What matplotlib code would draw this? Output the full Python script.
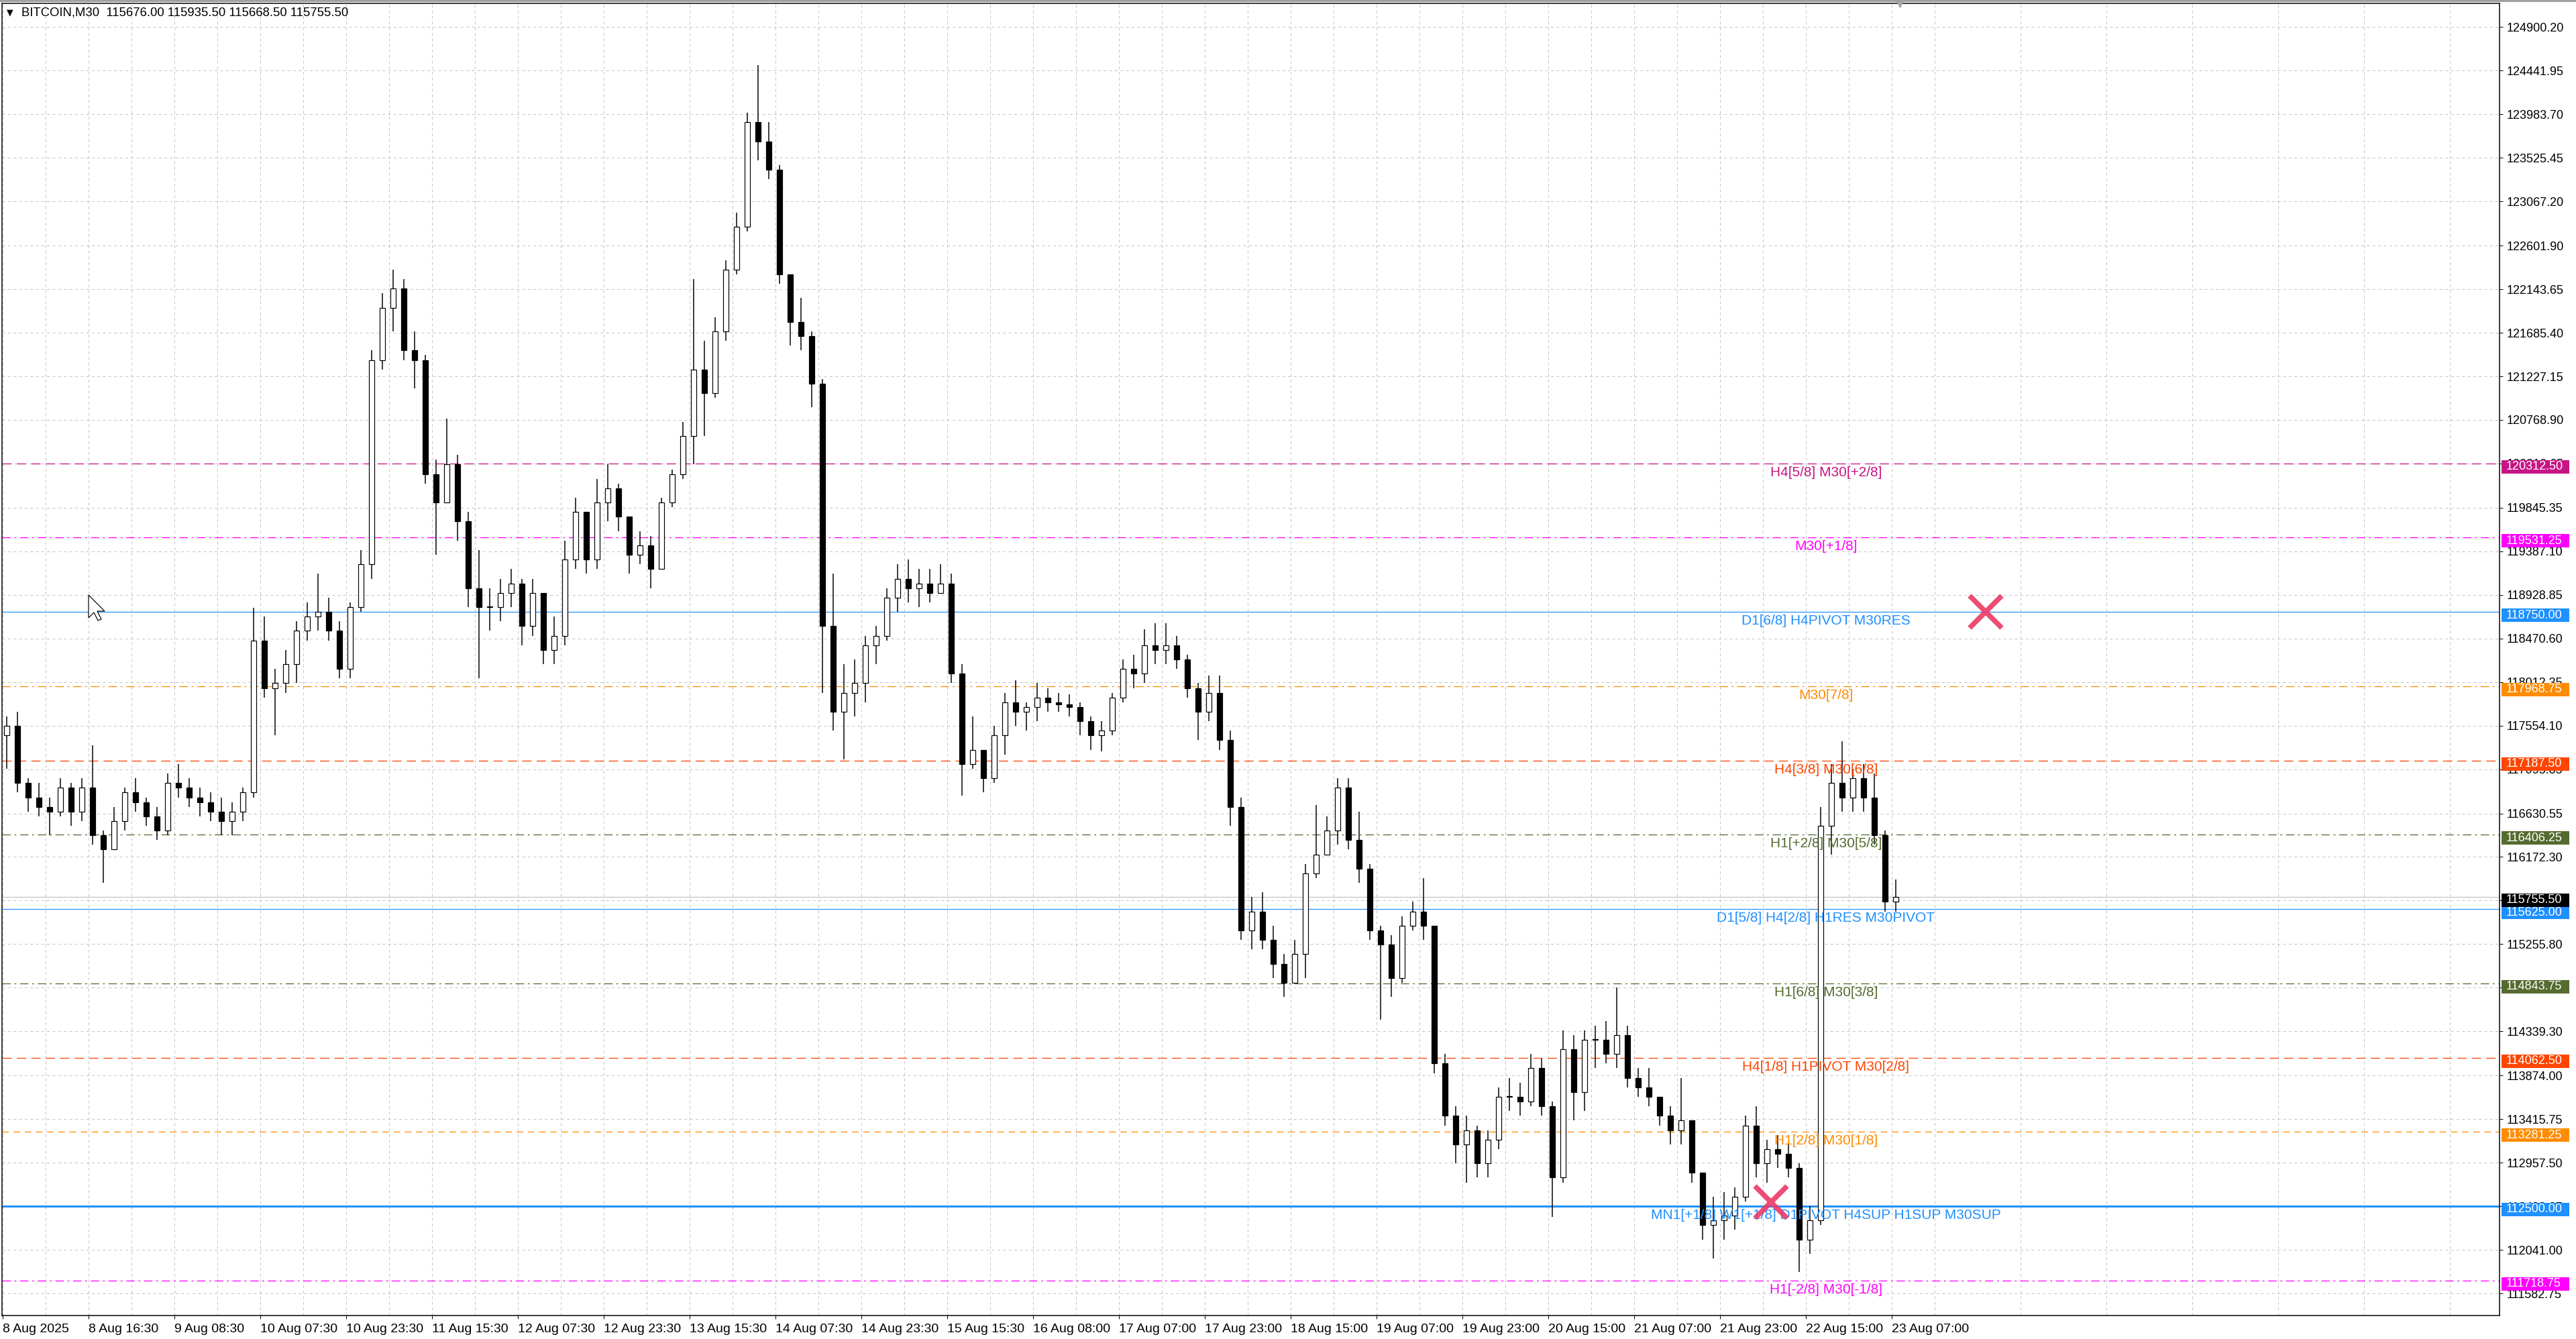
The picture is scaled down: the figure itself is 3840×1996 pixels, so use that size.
import matplotlib
matplotlib.use("Agg")
import matplotlib.pyplot as plt
import matplotlib.transforms as mtransforms
from matplotlib.patches import Rectangle, Polygon

plt.rcParams['font.family'] = ['Liberation Sans', 'DejaVu Sans']
plt.rcParams['lines.scale_dashes'] = False

PX = 0.72  # one pixel in points (dpi 100)

# ---------------- data ----------------
title = "BITCOIN,M30  115676.00 115935.50 115668.50 115755.50"

# candles grouped by 4 M30 bars (2 hours); open = previous close
first_open = 117450.0
highs = [117650, 117700, 117000, 116950, 116800, 117000, 116950, 117000, 117350, 116450,
         116700, 116900, 117000, 116800, 116700, 117050, 117150, 117000, 116900, 116850,
         116800, 116750, 116900, 118790, 118700, 118150, 118350, 118650, 118850, 119150,
         118900, 118650, 118850, 119400, 121500, 122100, 122350, 122250, 121700, 121450,
         120350, 120780, 120400, 119800, 119400, 119000, 119100, 119200, 119100, 119100,
         118800, 118700, 119500, 119950, 119800, 120150, 120300, 120100, 119750, 119600,
         119550, 119950, 120250, 120750, 122250, 121600, 121850, 122450, 122950, 124000,
         124500, 123900, 123450, 122300, 122050, 121700, 121200, 119150, 118200, 118250,
         118500, 118600, 119000, 119250, 119300, 119200, 119200, 119250, 119150, 118200,
         117650, 117300, 117550, 117900, 118030, 117800, 118000, 117950, 117900, 117880,
         117800, 117650, 117600, 117900, 118250, 118300, 118570, 118630, 118630, 118500,
         118300, 118000, 118080, 118080, 117500, 116800, 115750, 115800, 115450, 115150,
         115300, 116100, 116720, 116600, 117000, 117000, 116650, 116100, 115450, 115350,
         115550, 115700, 115950, 115450, 114100, 113550, 113450, 113350, 113300, 113750,
         113850, 113800, 114100, 114050, 113600, 114350, 114300, 114350, 114400, 114450,
         114800, 114400, 113950, 113950, 113650, 113550, 113850, 113400, 112850, 112600,
         112650, 112700, 113450, 113550, 113200, 113250, 113150, 112950, 112500, 116700,
         117150, 117390, 117100, 117150, 117050, 116450, 115935.5]
lows = [117100, 116850, 116650, 116600, 116400, 116600, 116500, 116550, 116300, 115900,
        116300, 116450, 116650, 116500, 116350, 116400, 116800, 116700, 116600, 116550,
        116400, 116400, 116550, 116800, 117850, 117450, 117900, 118000, 118450, 118550,
        118450, 118050, 118050, 118750, 119100, 121300, 121700, 121400, 121100, 120100,
        119350, 119900, 119500, 118800, 118050, 118550, 118650, 118800, 118400, 118500,
        118200, 118200, 118400, 119200, 119150, 119200, 119700, 119600, 119150, 119250,
        119000, 119200, 119850, 120150, 120300, 120600, 121000, 121600, 122300, 122750,
        123500, 123300, 122200, 121550, 121500, 120900, 117900, 117500, 117200, 117650,
        117800, 118200, 118450, 118750, 118850, 118800, 118850, 118950, 118000, 116820,
        117100, 116850, 116950, 117250, 117550, 117500, 117600, 117700, 117700, 117650,
        117450, 117300, 117280, 117450, 117800, 117950, 118000, 118200, 118200, 118150,
        117850, 117400, 117600, 117300, 116500, 115300, 115200, 115200, 114900, 114700,
        114850, 114900, 115950, 116250, 116300, 116250, 115900, 115300, 114460, 114700,
        114850, 115400, 115300, 113900, 113350, 112950, 112750, 112800, 112800, 113100,
        113500, 113450, 113550, 113450, 112390, 112750, 113400, 113500, 113950, 114000,
        113950, 113750, 113650, 113550, 113350, 113150, 113150, 112750, 112150, 111950,
        112150, 112250, 112550, 112800, 112750, 112900, 112800, 111810, 112000, 112300,
        116200, 116650, 116650, 116650, 116300, 115600, 115600]
closes = [117550, 116950, 116800, 116700, 116650, 116900, 116650, 116900, 116400, 116250,
          116550, 116850, 116750, 116600, 116450, 116950, 116900, 116800, 116750, 116650,
          116550, 116650, 116850, 118450, 117950, 118000, 118200, 118550, 118700, 118750,
          118550, 118150, 118800, 119250, 121400, 121950, 122150, 121500, 121400, 120200,
          119900, 120300, 119700, 119000, 118800, 118800, 118950, 119050, 118600, 118950,
          118350, 118500, 119300, 119800, 119300, 119900, 120050, 119750, 119350, 119450,
          119200, 119900, 120200, 120600, 121300, 121050, 121700, 122350, 122800, 123900,
          123700, 123400, 122300, 121800, 121650, 121150, 118600, 117700, 117900, 118000,
          118400, 118500, 118900, 119100, 119000, 119050, 118950, 119050, 118100, 117150,
          117300, 117000, 117450, 117800, 117700, 117750, 117850, 117800, 117780, 117750,
          117600, 117450, 117500, 117850, 118150, 118100, 118400, 118350, 118400, 118250,
          117950, 117700, 117900, 117400, 116700, 115400, 115600, 115300, 115050, 114850,
          115150, 116000, 116200, 116450, 116900, 116350, 116050, 115400, 115250, 114900,
          115450, 115600, 115450, 114000, 113450, 113150, 113300, 112950, 113200, 113650,
          113650, 113600, 113950, 113550, 112800, 114150, 113700, 114250, 114250, 114100,
          114300, 113850, 113750, 113650, 113450, 113300, 113400, 112850, 112300, 112350,
          112400, 112600, 113350, 112950, 113100, 113050, 112900, 112150, 112350, 116500,
          116950, 116800, 117000, 116800, 116400, 115700, 115755.5]
bars_per_candle = 4

time_labels = ["8 Aug 2025", "8 Aug 16:30", "9 Aug 08:30", "10 Aug 07:30", "10 Aug 23:30",
               "11 Aug 15:30", "12 Aug 07:30", "12 Aug 23:30", "13 Aug 15:30", "14 Aug 07:30",
               "14 Aug 23:30", "15 Aug 15:30", "16 Aug 08:00", "17 Aug 07:00", "17 Aug 23:00",
               "18 Aug 15:00", "19 Aug 07:00", "19 Aug 23:00", "20 Aug 15:00", "21 Aug 07:00",
               "21 Aug 23:00", "22 Aug 15:00", "23 Aug 07:00"]
bars_per_label = 32

price_ticks = [124900.20, 124441.95, 123983.70, 123525.45, 123067.20, 122601.90, 122143.65,
               121685.40, 121227.15, 120768.90, 120310.65, 119845.35, 119387.10, 118928.85,
               118470.60, 118012.35, 117554.10, 117095.85, 116630.55, 116172.30, 115714.05,
               115255.80, 114797.55, 114339.30, 113874.00, 113415.75, 112957.50, 112499.25,
               112041.00, 111582.75]

level_prices = [120312.50, 119531.25, 118750.00, 117968.75, 117187.50, 116406.25,
                115625.00, 114843.75, 114062.50, 113281.25, 112500.00, 111718.75]
level_names = ["H4[5/8] M30[+2/8]", "M30[+1/8]", "D1[6/8] H4PIVOT M30RES", "M30[7/8]",
               "H4[3/8] M30[6/8]", "H1[+2/8] M30[5/8]", "D1[5/8] H4[2/8] H1RES M30PIVOT",
               "H1[6/8] M30[3/8]", "H4[1/8] H1PIVOT M30[2/8]", "H1[2/8] M30[1/8]",
               "MN1[+1/8] W1[+1/8] D1PIVOT H4SUP H1SUP M30SUP", "H1[-2/8] M30[-1/8]"]
level_colors = ["#C71585", "#FF00FF", "#1E90FF", "#FF8C00", "#FF4500", "#556B2F",
                "#1E90FF", "#556B2F", "#FF4500", "#FF8C00", "#1E90FF", "#FF00FF"]
level_kinds = ["dash", "dashdot", "solid", "dashdot", "dash", "dashdot",
               "solid", "dashdot", "dash", "short", "solid", "dashdot"]
level_widths = [1.3, 1.3, 1.2, 1.3, 1.3, 1.3, 1.2, 1.3, 1.3, 1.3, 3, 1.3]

bid_price = 115755.50

cross_bars = [739, 659]
cross_prices = [118750, 112540]

# ---------------- figure ----------------
W, H = 3840, 1996
fig = plt.figure(figsize=(W / 100, H / 100), dpi=100)
ax = fig.add_axes([3 / W, 35 / H, 3723 / W, 1956 / H])

styles = {"dash": (0, (10, 5.5)), "dashdot": (0, (9, 4, 2, 4)),
          "short": (0, (7, 5)), "solid": "-"}

# ticks & grid
minor = [16 + bars_per_label * k for k in range(29)]
ax.set_xticks([bars_per_label * k for k in range(len(time_labels))])
ax.set_xticks(minor, minor=True)
ax.set_xticklabels(time_labels, ha="left", fontsize=14)
ax.grid(True, which="both", axis="x", color="#C4C4C4", linestyle=(0, (3, 3)), lw=PX)
ax.yaxis.tick_right()
ax.set_yticks(price_ticks)
ax.set_yticklabels(["%.2f" % v for v in price_ticks], fontsize=13)
ax.grid(True, axis="y", color="#C4C4C4", linestyle=(0, (3, 3)), lw=PX)
ax.set_axisbelow(True)
ax.tick_params(axis="x", which="major", direction="out", length=5 * PX, width=PX, pad=5)
ax.tick_params(axis="x", which="minor", length=0)
ax.tick_params(axis="y", direction="out", length=5 * PX, width=PX, pad=4)
for s in ax.spines.values():
    s.set_color("black")
    s.set_linewidth(1.5 * PX)

# levels
for p, kind, c, w in zip(level_prices, level_kinds, level_colors, level_widths):
    ax.axhline(p, color=c, lw=w * PX, linestyle=styles[kind], zorder=1.5)
ax.axhline(bid_price, color="#C0C0C0", lw=1.2 * PX, zorder=1.5)

# candles
n = len(closes)
opens = [first_open] + closes[:-1]
xs = [bars_per_candle * j + 1.5 for j in range(n)]
ax.vlines(xs, lows, highs, color="black", lw=1.5 * PX, zorder=3)
bottoms = [min(o, c) for o, c in zip(opens, closes)]
heights = [max(abs(c - o), 10) for o, c in zip(opens, closes)]
fills = ["white" if c >= o else "black" for o, c in zip(opens, closes)]
ax.bar(xs, heights, bottom=bottoms, width=2.1, color=fills, edgecolor="black",
       linewidth=1.2 * PX, zorder=3.5)

# level captions
for p, name, c in zip(level_prices, level_names, level_colors):
    ax.annotate(name, xy=(679.5, p), xytext=(0, -4 * PX), textcoords="offset points",
                ha="center", va="top", color=c, fontsize=15, zorder=4)

# crosses
ax.plot(cross_bars, cross_prices, linestyle="none", marker="x", ms=34, mew=5.5,
        color="#EC3A66", alpha=0.9, zorder=5)

# limits last, so ticks and marks do not widen them
ax.set_xlim(-0.25, 930.5)
ax.set_ylim(111350, 125150)

# price boxes on the right scale
upp = (125150 - 111350) / 1956.0  # price units per pixel
tr = mtransforms.blended_transform_factory(fig.transFigure, ax.transData)
boxes = list(zip(level_prices, level_colors)) + [(bid_price, "black")]
for p, c in boxes:
    ax.add_patch(Rectangle((3729 / W, p - 15 * upp), 101 / W, 20 * upp, transform=tr,
                           facecolor=c, edgecolor="none", clip_on=False, zorder=6))
    ax.text(3736 / W, p - 5 * upp, "%.2f" % p, transform=tr, color="white", fontsize=13,
            va="center", ha="left", clip_on=False, zorder=7)

# header text, chart-shift marker, mouse pointer
fig.text(10 / W, 1 - 19 / H, "\u25bc", fontsize=9, family="DejaVu Sans", va="center")
fig.text(32 / W, 1 - 19 / H, title, fontsize=13.3, va="center")
ax.plot([707], [125150], marker="v", ms=8, color="#A8A8A8", clip_on=False, zorder=6)
fig.patches.append(Rectangle((0, 1 - 3 / H), 1, 3 / H, transform=fig.transFigure,
                             facecolor="#A0A0A0", edgecolor="none"))
arrow = [(0, 0), (0, 34), (8, 26), (14, 38), (19, 36), (13, 24), (24, 24)]
fig.patches.append(Polygon([((132 + px) / W, 1 - (887 + py) / H) for px, py in arrow],
                           closed=True, transform=fig.transFigure, facecolor="white",
                           edgecolor="black", lw=1.2 * PX, zorder=10))

fig.savefig("out.png", dpi=100, facecolor="white")
